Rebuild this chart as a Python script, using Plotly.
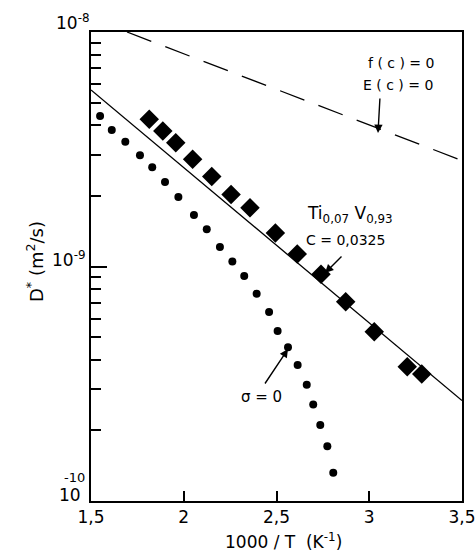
import plotly.graph_objects as go

# ---- data ----
diamond_x = [1.814, 1.887, 1.957, 2.048, 2.151, 2.255, 2.357, 2.494, 2.612, 2.740, 2.873, 3.027, 3.205, 3.283]
diamond_y = [4.25e-9, 3.78e-9, 3.37e-9, 2.87e-9, 2.42e-9, 2.03e-9, 1.78e-9, 1.39e-9, 1.13e-9, 9.27e-10, 7.08e-10, 5.27e-10, 3.74e-10, 3.48e-10]

dot_x = [1.549, 1.612, 1.685, 1.764, 1.830, 1.899, 1.971, 2.055, 2.124, 2.195, 2.262, 2.326, 2.393, 2.460, 2.506, 2.562, 2.614, 2.663, 2.698, 2.736, 2.774, 2.806]
dot_y = [4.38e-9, 3.82e-9, 3.40e-9, 2.98e-9, 2.65e-9, 2.29e-9, 1.98e-9, 1.66e-9, 1.44e-9, 1.21e-9, 1.05e-9, 9.10e-10, 7.66e-10, 6.40e-10, 5.31e-10, 4.52e-10, 3.80e-10, 3.13e-10, 2.58e-10, 2.11e-10, 1.71e-10, 1.32e-10]

fit_x = [1.5, 3.5]
fit_y = [5.66e-9, 2.68e-10]

dash_x = [1.694, 3.5]
dash_y = [1.0e-8, 2.83e-9]

x_tickvals = [1.5, 2, 2.5, 3, 3.5]
x_ticktext = ["1,5", "2", "2,5", "3", "3,5"]

FONT = "DejaVu Sans"
W, H = 476, 555
L, R, T, B = 91, 14, 32, 54
PW, PH = W - L - R, H - T - B


def px(x):
    return (x - L) / PW


def py(y):
    return 1 - (y - T) / PH


fig = go.Figure()
fig.add_trace(go.Scatter(x=dash_x, y=dash_y, mode="lines",
                         line=dict(color="black", width=1.3, dash="26px,15px")))
fig.add_trace(go.Scatter(x=fit_x, y=fit_y, mode="lines",
                         line=dict(color="black", width=1.3)))
fig.add_trace(go.Scatter(x=diamond_x, y=diamond_y, mode="markers",
                         marker=dict(symbol="diamond", size=15, color="black")))
fig.add_trace(go.Scatter(x=dot_x, y=dot_y, mode="markers",
                         marker=dict(symbol="circle", size=8, color="black")))

ann = []


def text(x, y, s, size=14, **kw):
    ann.append(dict(x=px(x), y=py(y), xref="paper", yref="paper", text=s,
                    xanchor="center", yanchor="middle",
                    showarrow=False, font=dict(family=FONT, size=size, color="black"), **kw))


def arrow(hx, hy, tx, ty):
    ann.append(dict(x=px(hx), y=py(hy), xref="paper", yref="paper", text="",
                    showarrow=True, ax=tx - hx, ay=ty - hy, arrowhead=2,
                    arrowsize=1.2, arrowwidth=1.4, arrowcolor="black"))


# y tick labels
text(73, 22, "10<sup>-8</sup>", size=17)
text(69, 259, "10<sup>-9</sup>", size=17)
text(74, 477, "-10", size=13)
text(70, 495, "10", size=17)

# axis titles
text(35, 262, "D<sup>*</sup> (m<sup>2</sup>/s)", size=18, textangle=-90)
text(283, 541, "1000 / T  (K<sup>-1</sup>)", size=17)

# labels
text(401, 63, "f ( c ) = 0", size=14)
text(398, 85, "E ( c ) = 0", size=14)
arrow(378, 133, 380, 97)

text(350, 214, "Ti<sub>0,07</sub> V<sub>0,93</sub>", size=17)
text(345, 240, "C = 0,0325", size=14)
arrow(325, 273, 343, 255)

text(261, 397, "σ = 0", size=15)
arrow(288, 349, 264, 385)

fig.update_layout(
    width=W, height=H, autosize=False,
    margin=dict(l=L, r=R, t=T, b=B),
    paper_bgcolor="white", plot_bgcolor="white",
    showlegend=False,
    annotations=ann,
    font=dict(family=FONT, size=17, color="black"),
)
fig.update_xaxes(range=[1.5, 3.5], tickvals=x_tickvals, ticktext=x_ticktext,
                 ticks="inside", ticklen=10, tickwidth=1.5, tickcolor="black",
                 showline=True, linecolor="black", linewidth=2, mirror=True,
                 showgrid=False, zeroline=False, automargin=False,
                 tickfont=dict(family=FONT, size=17, color="black"))
fig.update_yaxes(type="log", range=[-10, -8],
                 tickvals=[1e-10, 1e-9, 1e-8], ticks="inside", ticklen=16,
                 tickwidth=1.5, tickcolor="black", showticklabels=False,
                 minor=dict(tickvals=[m * 10.0 ** e for e in (-10, -9) for m in range(2, 10)],
                            ticks="inside", ticklen=10, tickwidth=1.5, tickcolor="black",
                            showgrid=False),
                 showline=True, linecolor="black", linewidth=2, mirror=True,
                 showgrid=False, zeroline=False, automargin=False)

fig.write_html(
    "out.html",
    config={"displayModeBar": False, "responsive": False},
    post_script="document.body.style.margin='0';document.body.style.overflow='hidden';"
                "document.documentElement.style.overflow='hidden';",
)
